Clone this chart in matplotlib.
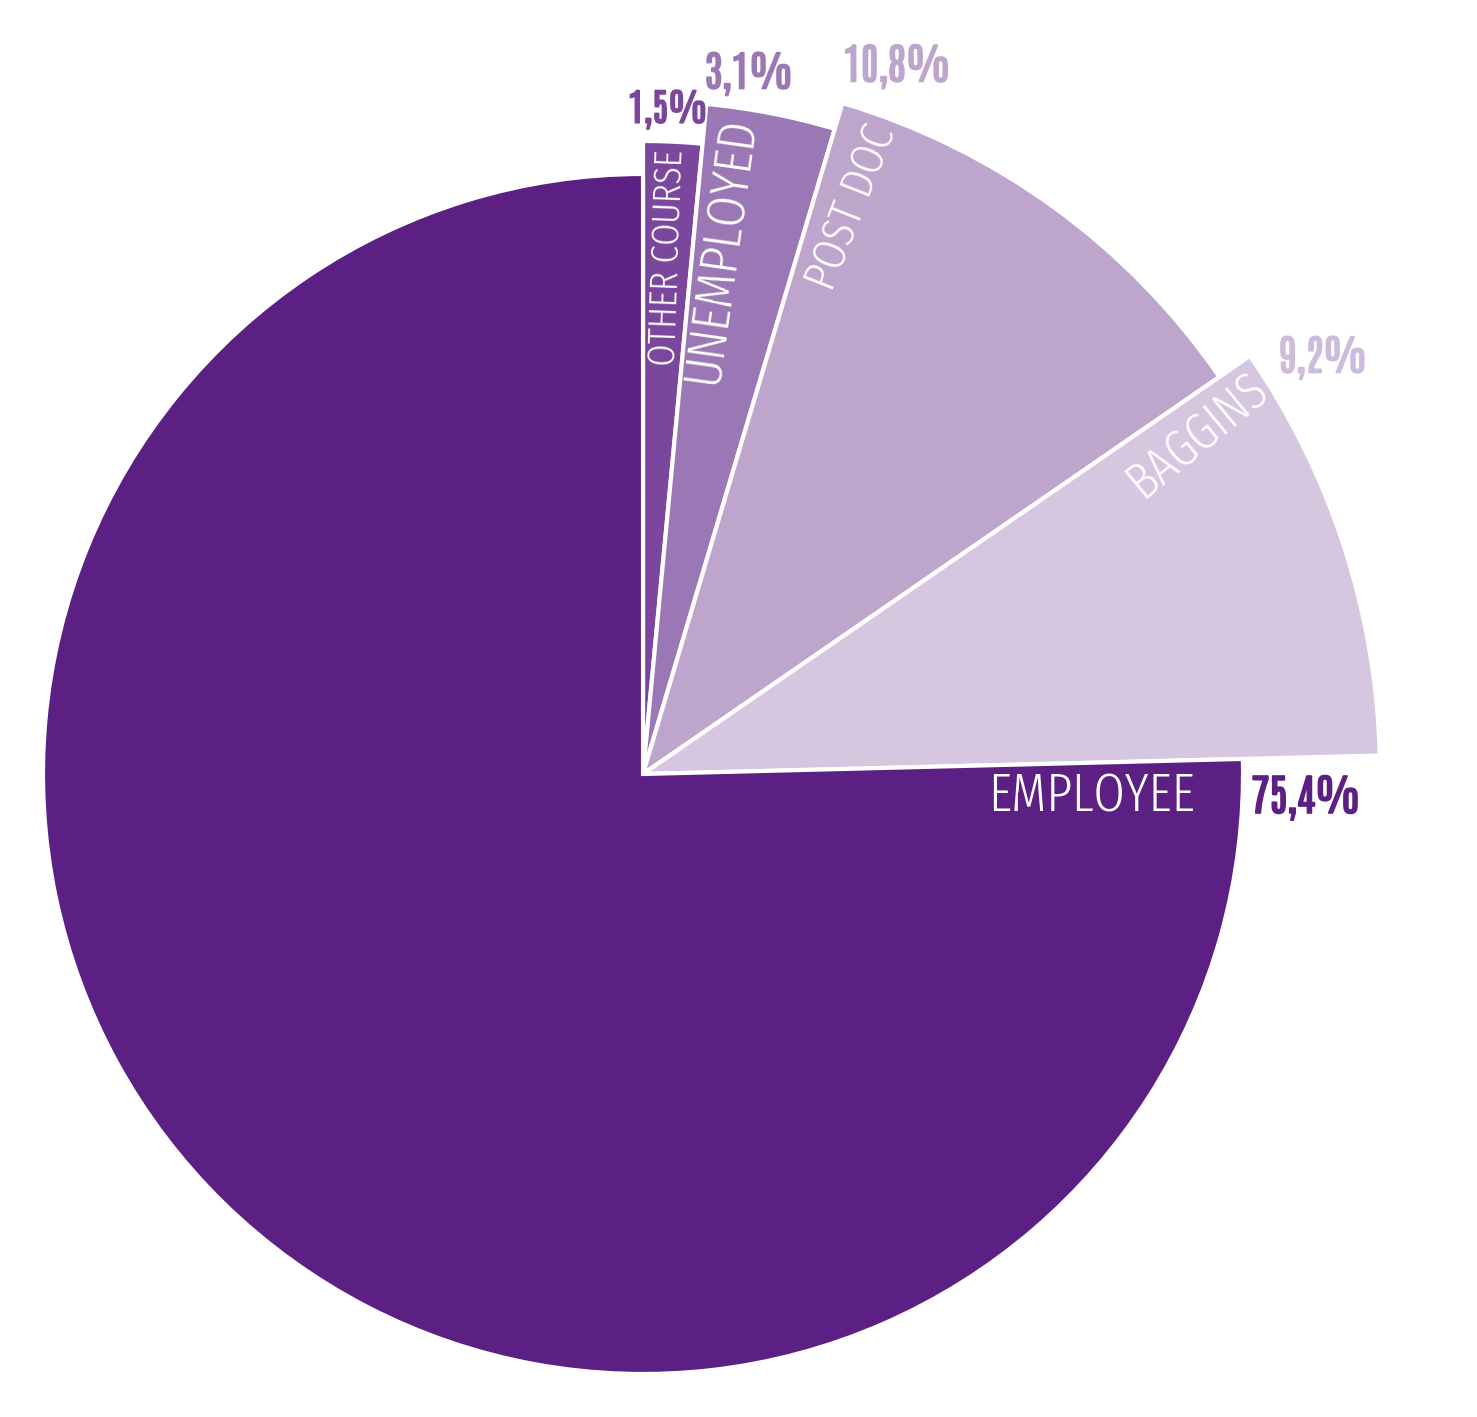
import numpy as np
import matplotlib
matplotlib.use("Agg")
import matplotlib.pyplot as plt
import matplotlib.patheffects as pe
from matplotlib.patches import Wedge

# data, clockwise from 12 o'clock
categories = ["OTHER COURSE", "UNEMPLOYED", "POST DOC", "BAGGINS", "EMPLOYEE"]
shares = [1.5, 3.1, 10.8, 9.2, 75.4]
pct_labels = ["1,5%", "3,1%", "10,8%", "9,2%", "75,4%"]

# layout (pixels)
W, H = 1477, 1417
cx, cy = 643, 774
radii = [633, 673, 700, 737, 600]
colors = ["#7a479d", "#9b78b5", "#bea5cc", "#d6c6e0", "#5c1f83"]
pct_colors = ["#7a479d", "#9b78b5", "#bea5cc", "#cdbcdb", "#5c1f83"]
pct_pos = [(668, 110), (749, 74), (897, 66), (1323, 358), (1306, 798)]
pct_size = [27, 30, 30.5, 30, 31]
name_pos = [(668, 258), (721, 250), (852, 208), (1198, 436), (1195, 797)]
name_rot = [88, 82, 68.5, 39.5, 0]
name_size = [28, 39, 34, 37, 39.5]
name_ha = ["center", "center", "center", "center", "right"]

label_font = ["Fira Sans Extra Condensed", "Liberation Sans Narrow", "DejaVu Sans"]
pct_font = ["Antonio", "Fira Sans Extra Condensed", "DejaVu Sans"]

fig = plt.figure(figsize=(W / 100, H / 100), dpi=100)
ax = fig.add_axes([0, 0, 1, 1])
ax.set_xlim(0, W)
ax.set_ylim(H, 0)
ax.set_aspect("equal")
ax.axis("off")

# angles in degrees clockwise from top; with the y axis flipped theta = a - 90
bounds = np.concatenate([[0], np.cumsum(shares)]) / 100 * 360
for i, cat in enumerate(categories):
    w = Wedge((cx, cy), radii[i], bounds[i] - 90, bounds[i + 1] - 90,
              facecolor=colors[i], edgecolor="white", linewidth=3)
    ax.add_patch(w)

for i, cat in enumerate(categories):
    ax.text(pct_pos[i][0], pct_pos[i][1], pct_labels[i], color=pct_colors[i],
            fontsize=pct_size[i], family=pct_font, ha="center", va="center",
            path_effects=[pe.withStroke(linewidth=1.2, foreground=pct_colors[i])])
    ax.text(name_pos[i][0], name_pos[i][1], cat, color="white",
            fontsize=name_size[i], fontweight=300, family=label_font,
            rotation=name_rot[i], ha=name_ha[i], va="center")

fig.savefig("out.png", dpi=100, facecolor="white")
plt.close(fig)
